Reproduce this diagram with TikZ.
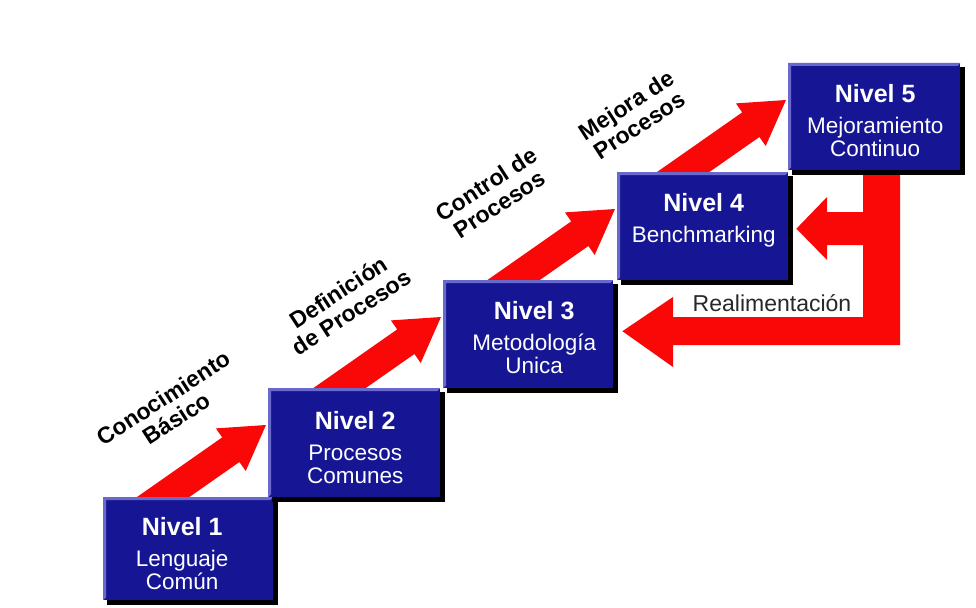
\documentclass[tikz,border=0pt]{standalone}
\usepackage{fontspec}
\setmainfont{Liberation Sans}
\usetikzlibrary{calc,backgrounds}
\definecolor{navy}{RGB}{22,22,148}
\definecolor{bevelblue}{RGB}{105,105,205}
\definecolor{arrowred}{RGB}{250,8,8}
\definecolor{fbtext}{RGB}{40,40,40}
\tikzset{
  lvl/.style={rectangle, fill=navy, inner sep=0pt, anchor=north west},
  lvltext/.style={text=white, align=center, inner sep=0pt, font=\fontsize{22.5}{23}\selectfont},
  steplabel/.style={rotate=33, align=center, inner sep=0pt, font=\fontsize{23}{24}\selectfont\bfseries},
  redshape/.style={fill=arrowred},
}
\newcommand{\lvlbox}[5]{%
  \fill[black] ({#2+4},{#3+4}) rectangle ({#2+#4+5},{#3+#5+5});
  \node[lvl, minimum width=#4pt, minimum height=#5pt] (#1) at (#2,#3) {};
  \fill[bevelblue] (#1.north west) -- (#1.north east) -- ($(#1.north east)+(-3,3)$)
     -- ($(#1.north west)+(3,3)$) -- ($(#1.south west)+(3,-3)$) -- (#1.south west) -- cycle;
}
\newcommand{\upblock}[1]{%
  \fill[redshape, shift={#1}] (0,0) -- (-20.3,46.0) -- (-26.6,37.0) -- (-122.5,104.1)
     -- (-139.7,79.5) -- (-43.8,12.4) -- (-50.1,3.4) -- cycle;
}
\newcommand{\nv}[1]{{\fontsize{25}{25}\selectfont\bfseries Nivel #1}\\[8pt]}
\begin{document}
\begin{tikzpicture}[x=1pt,y=-1pt]
\useasboundingbox (0,0) rectangle (976,607);

% level boxes
\lvlbox{b1}{103}{497}{170}{103}
\lvlbox{b2}{268}{388}{172}{109}
\lvlbox{b3}{443}{280}{170}{108}
\lvlbox{b4}{617}{172}{171}{108}
\lvlbox{b5}{788}{63}{172}{107}

% box texts
\node[lvltext] (t1) at ($(b1.center)+(-6,4.5)$) {\nv{1}Lenguaje\\Común};
\node[lvltext] (t2) at ($(b2.center)+(1,5)$) {\nv{2}Procesos\\Comunes};
\node[lvltext] (t3) at ($(b3.center)+(6,3.5)$) {\nv{3}Metodología\\Unica};
\node[lvltext] (t4) at ($(b4.center)+(1,-6)$) {\nv{4}Benchmarking};
\node[lvltext] (t5) at ($(b5.center)+(1,4)$) {\nv{5}Mejoramiento\\Continuo};

% step labels
\node[steplabel] (l1) at (170,408) {Conocimiento\\Básico};
\node[steplabel] (l2) at (345,302) {Definición\\de Procesos};
\node[steplabel] (l3) at (493,194) {Control de\\Procesos};
\node[steplabel] (l4) at (633,115) {Mejora de\\Procesos};

\node[text=fbtext, inner sep=0pt, font=\fontsize{23}{23}\selectfont] (fb) at (772,303) {Realimentación};

\begin{pgfonlayer}{background}
  \fill[white] (0,0) rectangle (976,607);
  % upward block arrows
  \coordinate (u1) at ($(b2.north west)+(-2,37)$);
  \coordinate (u2) at ($(b3.north west)+(-2,37)$);
  \coordinate (u3) at ($(b4.north west)+(-2,37)$);
  \coordinate (u4) at ($(b5.north west)+(-2,37)$);
  \upblock{(u1)}
  \upblock{(u2)}
  \upblock{(u3)}
  \upblock{(u4)}
  % feedback arrows
  \coordinate (fA) at ($(b4.east)+(8,2.5)$);
  \coordinate (fB) at ($(b3.east)+(9,-3)$);
  \fill[redshape] (900,165) -- (900,345) -- (673,345) -- (673,367) -- (fB) -- (673,297)
     -- (673,317) -- (863,317) -- (863,245) -- (827,245) -- (827,260) -- (fA)
     -- (827,197) -- (827,212) -- (863,212) -- (863,165) -- cycle;
\end{pgfonlayer}
\end{tikzpicture}
\end{document}
